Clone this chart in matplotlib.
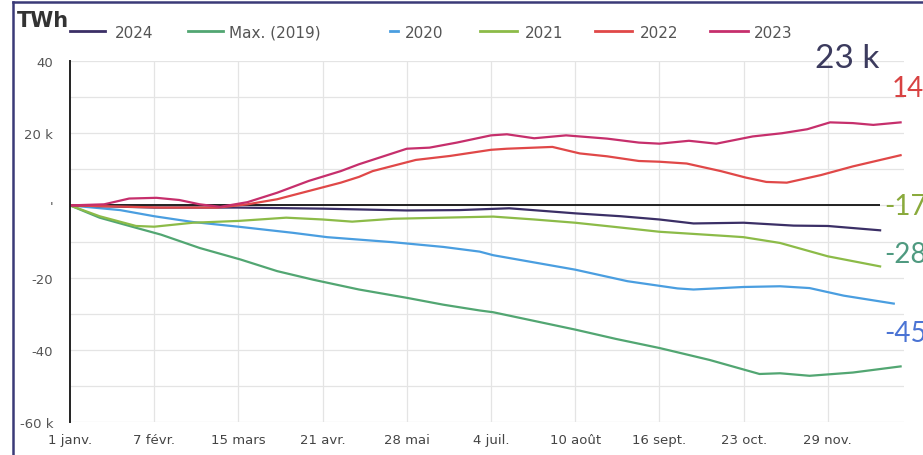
import matplotlib
matplotlib.use("Agg")
import matplotlib.pyplot as plt
from matplotlib.lines import Line2D

# ---------------- data (TWh, cumulative, by day of year) ----------------
days_max2019 = [0, 13, 29, 40, 57, 75, 91, 107, 127, 148, 164, 180, 186, 204, 222, 240, 259, 281, 303, 312, 325, 344, 365]
vals_max2019 = [0, -3.4, -6.2, -8.1, -11.8, -15, -18.2, -20.6, -23.3, -25.6, -27.5, -29.1, -29.6, -32, -34.4, -37, -39.5, -42.8, -46.7, -46.5, -47.2, -46.3, -44.6]

days_2020 = [0, 22, 37, 54, 74, 98, 113, 142, 164, 180, 186, 204, 222, 245, 267, 274, 296, 312, 325, 340, 362]
vals_2020 = [0, -1.3, -3, -4.6, -5.9, -7.6, -8.8, -10.2, -11.5, -12.8, -13.8, -15.8, -17.8, -21, -23, -23.3, -22.6, -22.4, -22.9, -25, -27.2]

days_2021 = [0, 13, 29, 37, 54, 74, 95, 111, 124, 142, 164, 186, 204, 222, 240, 259, 289, 296, 312, 333, 356]
vals_2021 = [0, -3, -5.7, -5.9, -4.8, -4.3, -3.4, -3.9, -4.5, -3.7, -3.4, -3.1, -3.9, -4.8, -6, -7.3, -8.5, -8.8, -10.4, -14.1, -16.9]

days_2022 = [0, 20, 40, 65, 78, 91, 105, 119, 127, 133, 152, 167, 185, 192, 212, 224, 236, 250, 259, 271, 286, 297, 306, 315, 330, 344, 365]
vals_2022 = [0, -0.3, -0.6, -0.6, 0.3, 1.7, 4, 6.3, 7.9, 9.5, 12.6, 13.7, 15.4, 15.7, 16.2, 14.4, 13.6, 12.3, 12.1, 11.6, 9.5, 7.7, 6.5, 6.3, 8.4, 10.8, 13.9]

days_2023 = [0, 15, 26, 38, 48, 57, 66, 78, 91, 105, 119, 127, 148, 158, 170, 185, 192, 204, 218, 236, 250, 259, 272, 284, 300, 313, 324, 334, 344, 353, 365]
vals_2023 = [0, 0.3, 1.9, 2.1, 1.5, 0.3, -0.4, 0.9, 3.5, 6.8, 9.5, 11.4, 15.7, 16, 17.4, 19.4, 19.7, 18.6, 19.4, 18.5, 17.4, 17.1, 17.9, 17.1, 19.1, 20, 21.1, 23, 22.8, 22.3, 23]

days_2024 = [0, 37, 74, 111, 148, 171, 193, 222, 242, 259, 274, 296, 318, 333, 356]
vals_2024 = [0, -0.6, -0.6, -0.9, -1.4, -1.3, -0.8, -2.2, -3, -3.9, -5, -4.8, -5.6, -5.7, -6.9]

tick_days = [0, 37, 74, 111, 148, 185, 222, 259, 296, 333]
tick_labels = ["1 janv.", "7 févr.", "15 mars", "21 avr.", "28 mai", "4 juil.",
               "10 août", "16 sept.", "23 oct.", "29 nov."]
ytick_vals = [40, 20, 0, -20, -40, -60]
ytick_labels = ["40", "20 k", "'", "-20", "-40", "-60 k"]

legend_names = ["2024", "Max. (2019)", "2020", "2021", "2022", "2023"]
end_labels = ["23 k", "14", "-17", "-28", "-45"]

# ---------------- styling ----------------
C2024 = "#3b2f66"
CMAX = "#52a672"
C2020 = "#4a9ee0"
C2021 = "#8cbb48"
C2022 = "#e04848"
C2023 = "#c62f6c"

W, H = 923, 456
fig = plt.figure(figsize=(W / 100, H / 100), dpi=100)
fig.patch.set_facecolor("white")

def fx(px):
    return px / W

def fy(py):
    return 1 - py / H

ax = fig.add_axes([fx(70), fy(423), fx(904) - fx(70), fy(62) - fy(423)])
ax.set_xlim(0, 366.5)
ax.set_ylim(-60, 40)

# grid
for v in range(-60, 41, 10):
    ax.axhline(v, color="#e4e4e4", lw=0.9, zorder=0)
for d in tick_days[1:]:
    ax.axvline(d, color="#e4e4e4", lw=0.9, zorder=0)

ax.hlines(0, 0, 356, color="#111111", lw=1.3, zorder=1.5)

lw = 1.6
ax.plot(days_max2019, vals_max2019, color=CMAX, lw=lw, zorder=2)
ax.plot(days_2020, vals_2020, color=C2020, lw=lw, zorder=2)
ax.plot(days_2021, vals_2021, color=C2021, lw=lw, zorder=2)
ax.plot(days_2024, vals_2024, color=C2024, lw=lw, zorder=2)
ax.plot(days_2022, vals_2022, color=C2022, lw=lw, zorder=2.1)
ax.plot(days_2023, vals_2023, color=C2023, lw=lw, zorder=2.2)

for s in ["top", "right", "bottom"]:
    ax.spines[s].set_visible(False)
ax.spines["left"].set_color("#222222")
ax.spines["left"].set_linewidth(1.4)

ax.set_xticks(tick_days)
ax.set_xticklabels(tick_labels, fontsize=9.5, color="#444444")
ax.set_yticks(ytick_vals)
ax.set_yticklabels(ytick_labels, fontsize=9.5, color="#555555")
ax.tick_params(axis="both", length=0, pad=8)
ax.tick_params(axis="y", pad=12)

# frame border (left and top only)
fig.add_artist(Line2D([fx(13), fx(13)], [0, fy(3)], transform=fig.transFigure,
                      color="#3b3a78", lw=1.8))
fig.add_artist(Line2D([fx(13), 1], [fy(3), fy(3)], transform=fig.transFigure,
                      color="#3b3a78", lw=1.8))

# title unit
fig.text(fx(17), fy(21), "TWh", fontsize=15, fontweight="bold", color="#333333",
         va="center", ha="left")

# legend (manual)
legend_items = [
    (70, 105, 115, legend_names[0], C2024),
    (188, 223, 229, legend_names[1], CMAX),
    (390, 398, 405, legend_names[2], C2020),
    (480, 517, 525, legend_names[3], C2021),
    (595, 632, 640, legend_names[4], C2022),
    (710, 748, 754, legend_names[5], C2023),
]
ly = 32
for x0, x1, tx, name, col in legend_items:
    fig.add_artist(Line2D([fx(x0), fx(x1)], [fy(ly), fy(ly)], transform=fig.transFigure,
                          color=col, lw=2.0))
    fig.text(fx(tx), fy(ly + 1), name, fontsize=11, color="#555555", va="center", ha="left")

# end labels (cut at the right edge, as in the reference)
end_specs = [
    (815, 59, end_labels[0], "#3c3b5e", 24),
    (892, 89, end_labels[1], "#d84242", 20),
    (884, 207, end_labels[2], "#8aaa3c", 20),
    (884, 255, end_labels[3], "#4f9a80", 20),
    (884, 334, end_labels[4], "#4b74d4", 20),
]
for x, y, t, col, fs in end_specs:
    fig.text(fx(x), fy(y), t, fontsize=fs, color=col, va="center", ha="left",
             family=["Lato", "DejaVu Sans"], fontweight="normal")

fig.savefig("out.png", dpi=100, facecolor="white")
